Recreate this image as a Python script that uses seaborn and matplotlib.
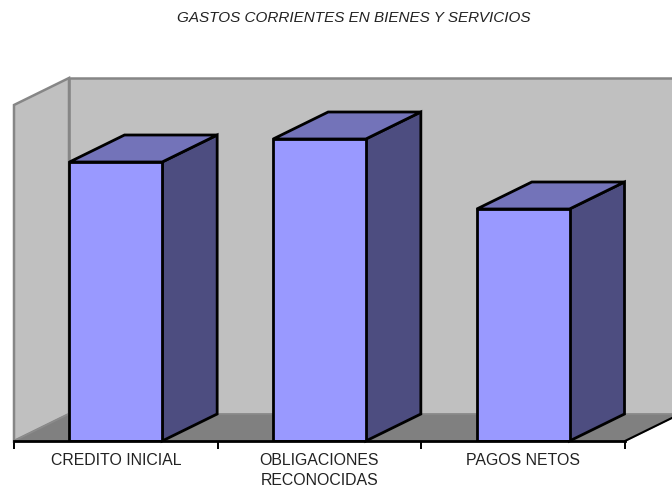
"""Barres 3D : gastos corrientes en bienes y servicios."""

import matplotlib
matplotlib.use('Agg')
import matplotlib.pyplot as plt
from matplotlib.patches import Polygon
import pandas as pd
import seaborn as sns

# --- Données (axe sans graduation) ---
categories = ['CREDITO INICIAL', 'OBLIGACIONES\nRECONOCIDAS', 'PAGOS NETOS']
values = [279, 302, 232]
title = 'GASTOS CORRIENTES EN BIENES Y SERVICIOS'

W, H = 672, 491
X0, X1, Y0, Y_TOP = 14, 625, 441, 105  # cadre avant en pixels
DX, DY = 55 / (X1 - X0) * 3, 27  # profondeur 3D en unités de données
Y_MAX = Y0 - Y_TOP

sns.set_theme(style='white')
plt.rcParams['font.family'] = ['Liberation Sans', 'DejaVu Sans']

fig = plt.figure(figsize=(W / 100, H / 100), dpi=100)
ax = fig.add_axes([X0 / W, (H - Y0) / H, (X1 - X0) / W, Y_MAX / H])

df = pd.DataFrame({'cat': categories, 'val': values})
sns.barplot(data=df, x='cat', y='val', ax=ax, color='#9999ff', saturation=1,
            width=0.455, edgecolor='black', linewidth=2, zorder=5)
ax.set_xlim(-0.5, 2.5)
ax.set_ylim(0, Y_MAX)


def poly(pts, face, edge='none', lw=0, z=1):
    ax.add_patch(Polygon(pts, closed=True, facecolor=face, edgecolor=edge,
                         linewidth=lw, zorder=z, clip_on=False,
                         joinstyle='miter'))


bars = list(ax.containers[0])

# Parois et sol
xr = -0.5 + (W + 20 - X0) / (X1 - X0) * 3
poly([(-0.5 + DX, DY), (xr, DY), (xr, Y_MAX + DY), (-0.5 + DX, Y_MAX + DY)],
     '#c0c0c0', '#868686', 1.8, 1)
poly([(-0.5, 0), (-0.5 + DX, DY), (-0.5 + DX, Y_MAX + DY), (-0.5, Y_MAX)],
     '#c0c0c0', '#868686', 1.8, 2)
poly([(-0.5, 0), (2.5, 0), (2.5 + DX, DY), (-0.5 + DX, DY)],
     '#808080', '#8c8c8c', 1, 3)
ax.plot([2.5, 2.5 + DX], [0, DY], color='black', lw=1.5, zorder=3.5, clip_on=False)

# Faces latérales et dessus de chaque barre
for bar in bars:
    x_l, x_r, h = bar.get_x(), bar.get_x() + bar.get_width(), bar.get_height()
    poly([(x_r, 0), (x_r + DX, DY), (x_r + DX, h + DY), (x_r, h)],
         '#4d4d80', 'black', 2, 4.5)
    poly([(x_l, h), (x_r, h), (x_r + DX, h + DY), (x_l + DX, h + DY)],
         '#7373b9', 'black', 2, 4.5)

ax.set_xlabel('')
ax.set_ylabel('')
ax.set_yticks([])
ax.set_xticks([-0.5, 0.5, 1.5, 2.5])
ax.set_xticklabels([])
ax.tick_params(axis='x', length=5.5, width=1.4, color='black', bottom=True, pad=0)
for tick in ax.xaxis.get_major_ticks():
    tick.tick1line.set_zorder(6)
for name in ['top', 'left', 'right']:
    ax.spines[name].set_visible(False)
ax.spines['bottom'].set_linewidth(2)
ax.spines['bottom'].set_color('black')
ax.spines['bottom'].set_zorder(6)
ax.patch.set_alpha(0)

for i, lab in enumerate(categories):
    ax.annotate(lab, (i, 0), xytext=(0, -8.6), textcoords='offset points',
                ha='center', va='top', fontsize=11.4, color='#222222',
                linespacing=1.42, annotation_clip=False)

fig.text(353.5 / W, 1 - 18 / H, title, ha='center', va='center', fontsize=11,
         style='italic', color='#222222')

fig.savefig('out.png', dpi=100)
